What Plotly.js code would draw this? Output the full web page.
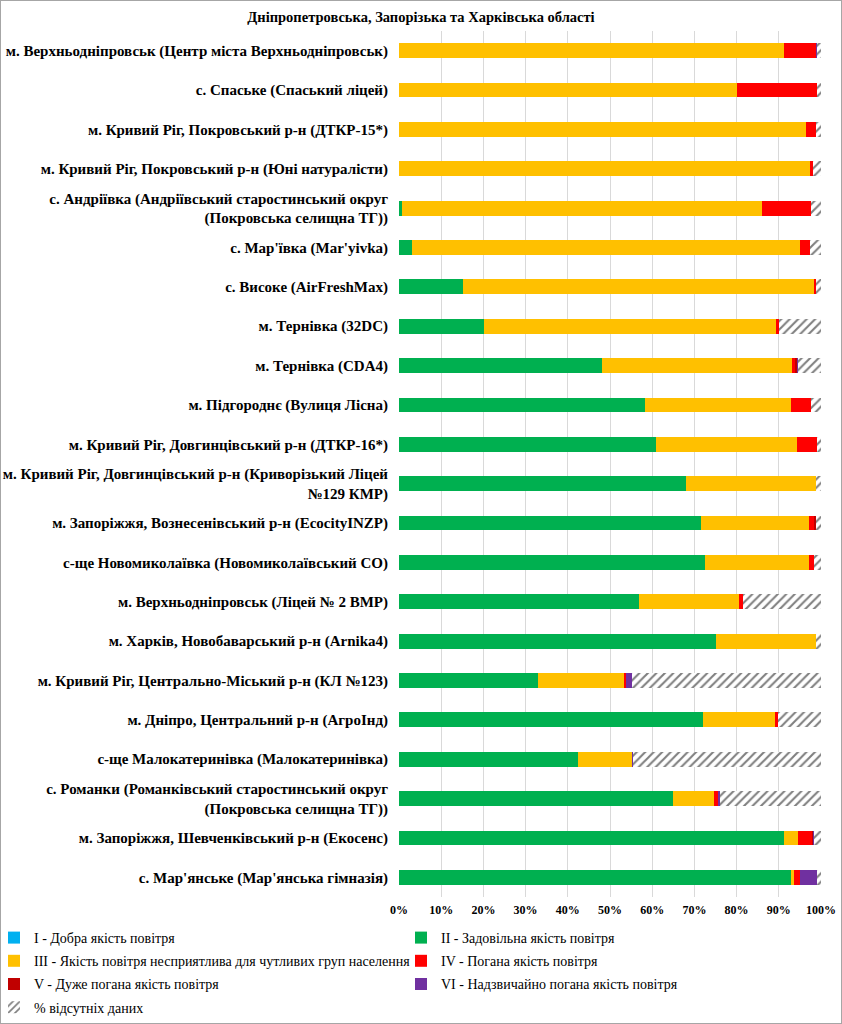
<!DOCTYPE html>
<html>
<head>
<meta charset="utf-8">
<script src="https://cdn.plot.ly/plotly-3.0.1.min.js"></script>
<style>
  body { margin: 0; background: #fff; }
  #wrap { position: relative; width: 842px; height: 1024px; }
  #chart { width: 842px; height: 1024px; }
  #frame { position: absolute; left: 0; top: 0; width: 842px; height: 1024px; box-sizing: border-box; border: 1px solid #a6a6a6; pointer-events: none; }
</style>
</head>
<body>
<div id="wrap"><div id="chart"></div><div id="frame"></div></div>
<script>
const categories = [
  "м. Верхньодніпровськ (Центр міста Верхньодніпровськ)",
  "с. Спаське (Спаський ліцей)",
  "м. Кривий Ріг, Покровський р-н (ДТКР-15*)",
  "м. Кривий Ріг, Покровський р-н (Юні натуралісти)",
  "с. Андріївка (Андріївський старостинський округ<br>(Покровська селищна ТГ))",
  "с. Мар'ївка (Mar'yivka)",
  "с. Високе (AirFreshMax)",
  "м. Тернівка (32DC)",
  "м. Тернівка (CDA4)",
  "м. Підгороднє (Вулиця Лісна)",
  "м. Кривий Ріг, Довгинцівський р-н (ДТКР-16*)",
  "м. Кривий Ріг, Довгинцівський р-н (Криворізький Ліцей<br>№129 КМР)",
  "м. Запоріжжя, Вознесенівський р-н (EcocityINZP)",
  "с-ще Новомиколаївка (Новомиколаївський СО)",
  "м. Верхньодніпровськ (Ліцей № 2 ВМР)",
  "м. Харків, Новобаварський р-н (Arnika4)",
  "м. Кривий Ріг, Центрально-Міський р-н (КЛ №123)",
  "м. Дніпро, Центральний р-н (АгроІнд)",
  "с-ще Малокатеринівка (Малокатеринівка)",
  "с. Романки (Романківський старостинський округ<br>(Покровська селищна ТГ))",
  "м. Запоріжжя, Шевченківський р-н (Екосенс)",
  "с. Мар'янське (Мар'янська гімназія)"
];

const seriesNames = [
  "I - Добра якість повітря",
  "II - Задовільна якість повітря",
  "III - Якість повітря несприятлива для чутливих груп населення",
  "IV - Погана якість повітря",
  "V - Дуже погана якість повітря",
  "VI - Надзвичайно погана якість повітря",
  "% відсутніх даних"
];

const level1 = [0,0,0,0,0,0,0,0,0,0,0,0,0,0,0,0,0,0,0,0,0,0];
const level2 = [0,0,0,0,0.6,3.1,15.2,20.1,48.0,58.2,60.8,67.9,71.6,72.6,56.9,75.2,32.9,72.0,42.4,65.0,91.3,93.0];
const level3 = [91.2,80.1,96.5,97.5,85.3,92.0,83.2,69.3,45.1,34.7,33.5,30.9,25.6,24.6,23.7,23.6,20.3,17.2,12.7,9.6,3.3,0.5];
const level4 = [7.7,19.0,2.2,0.7,11.7,2.4,0.3,0.7,0.8,4.7,4.7,0,1.2,1.1,0.8,0,0.6,0.6,0.2,1.0,3.3,1.6];
const level5 = [0,0,0,0,0,0,0,0,0.4,0,0,0,0.3,0,0,0,0,0,0,0,0.3,0];
const level6 = [0.2,0,0,0,0,0,0,0,0.2,0,0,0,0.2,0,0,0,1.3,0.1,0.2,0.4,0.2,3.9];
const missing = [0.9,0.9,1.3,1.8,2.4,2.5,1.3,9.9,5.5,2.4,1.0,1.2,1.1,1.7,18.6,1.2,44.9,10.1,44.5,24.0,1.6,1.0];

const tickVals = [0,10,20,30,40,50,60,70,80,90,100];
const tickText = ["0%","10%","20%","30%","40%","50%","60%","70%","80%","90%","100%"];

const colors = ["#00B0F0","#00B050","#FFC000","#FF0000","#C00000","#7030A0","#ffffff"];
const values = [level1, level2, level3, level4, level5, level6, missing];
// legend column: left column gets I, III, V, missing; right column II, IV, VI
const legendOf = ['legend','legend2','legend','legend2','legend','legend2','legend'];

const SERIF = "'Liberation Serif', 'Times New Roman', Times, serif";

const traces = values.map((v, i) => {
  const t = {
    type: 'bar',
    orientation: 'h',
    name: seriesNames[i],
    x: v,
    y: categories,
    legend: legendOf[i],
    legendgroup: 'g' + i,
    marker: { color: colors[i], line: { width: 0 } },
    hoverinfo: 'x+name'
  };
  if (i === 6) {
    t.marker.pattern = { shape: '/', fgcolor: '#7f7f7f', bgcolor: '#ffffff', size: 6, solidity: 0.35 };
  }
  return t;
});

const L = 399, R = 21, T = 31, B = 127;
const plotW = 842 - L - R, plotH = 1024 - T - B;
const px2x = px => (px - L) / plotW;
const py2y = py => -(py - (1024 - B)) / plotH;

const legendBase = {
  orientation: 'v',
  xref: 'paper', yref: 'paper',
  xanchor: 'left', yanchor: 'top',
  itemwidth: 30,
  traceorder: 'grouped',
  tracegroupgap: 2,
  font: { family: SERIF, size: 14, color: '#000' },
  bgcolor: 'rgba(0,0,0,0)'
};

const layout = {
  width: 842,
  height: 1024,
  paper_bgcolor: '#ffffff',
  plot_bgcolor: '#ffffff',
  barmode: 'stack',
  bargap: 0.625,
  margin: { l: L, r: R, t: T, b: B, autoexpand: false },
  title: {
    text: '<b>Дніпропетровська, Запорізька та Харківська області</b>',
    font: { family: SERIF, size: 14.5, color: '#000' },
    xref: 'container', x: 0.5, xanchor: 'center',
    yref: 'container', y: 1 - 17/1024, yanchor: 'middle'
  },
  xaxis: {
    range: [0, 100],
    tickvals: tickVals,
    ticktext: tickText.map(s => '<b>' + s + '</b>'),
    showgrid: true,
    gridcolor: '#d9d9d9',
    gridwidth: 1,
    zeroline: false,
    showline: false,
    ticks: '',
    ticklabelstandoff: 4,
    tickfont: { family: SERIF, size: 12, color: '#000' },
    automargin: false,
    fixedrange: true
  },
  yaxis: {
    type: 'category',
    categoryorder: 'array',
    categoryarray: categories,
    autorange: 'reversed',
    showgrid: false,
    zeroline: false,
    showline: false,
    ticks: '',
    ticklabelstandoff: 10,
    tickfont: { family: SERIF, size: 15, color: '#000', weight: 'bold' },
    automargin: false,
    fixedrange: true
  },
  legend: Object.assign({}, legendBase, { x: px2x(-6), y: py2y(922) }),
  legend2: Object.assign({}, legendBase, { x: px2x(401), y: py2y(922) }),
  showlegend: true
};

Plotly.newPlot('chart', traces, layout, { displayModeBar: false, staticPlot: true });
</script>
</body>
</html>
